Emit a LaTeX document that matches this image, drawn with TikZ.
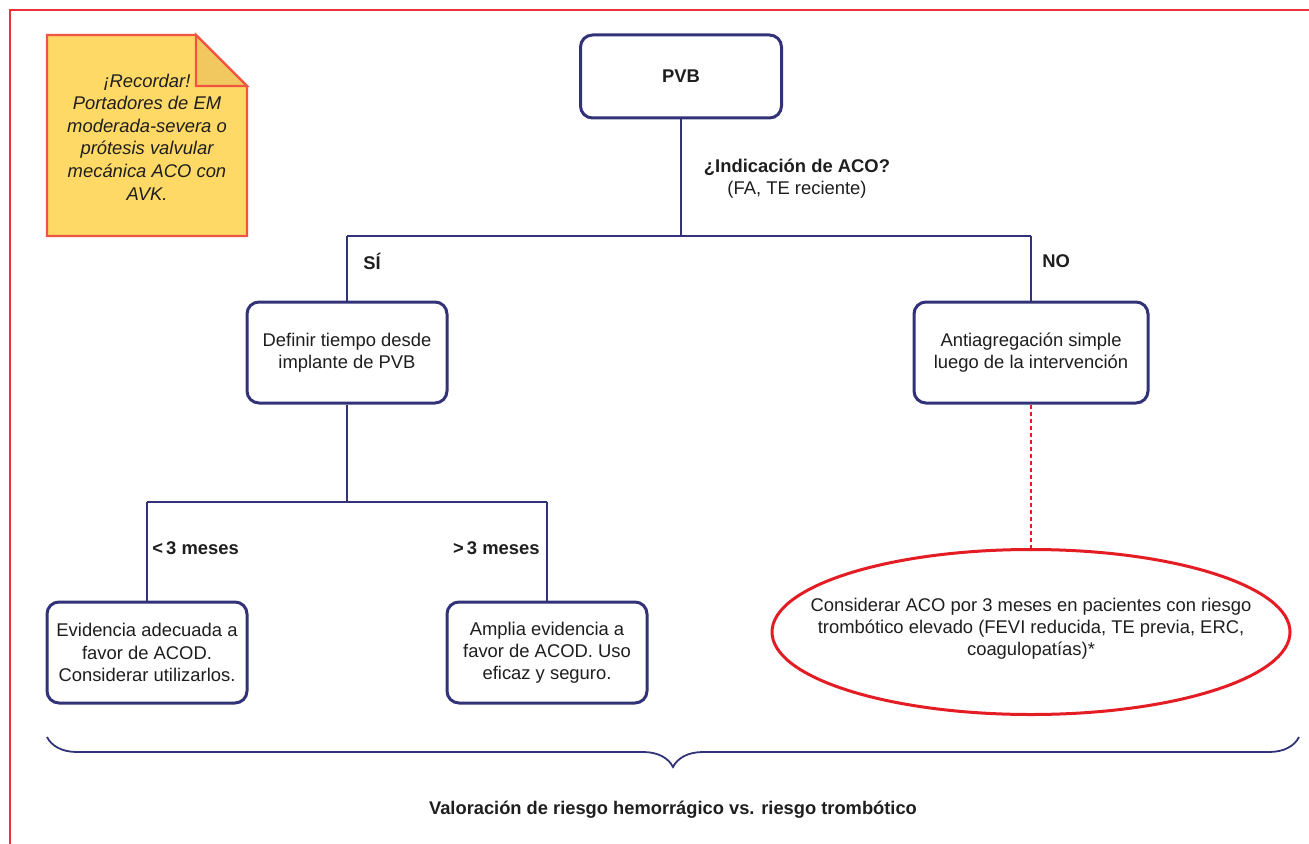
\documentclass[tikz,border=0pt]{standalone}
\usepackage{fontspec}
\setmainfont{Liberation Sans}
\usetikzlibrary{shapes.geometric,decorations.pathreplacing}
\definecolor{navy}{RGB}{50,50,120}
\definecolor{framered}{RGB}{237,50,55}
\definecolor{ellred}{RGB}{228,28,36}
\definecolor{notefill}{RGB}{255,217,102}
\definecolor{notefold}{RGB}{240,200,95}
\definecolor{noteedge}{RGB}{240,85,65}
\definecolor{txt}{RGB}{30,30,30}
\tikzset{
  txtfont/.style={font=\fontsize{9.2}{11.1}\selectfont, text=txt},
  box/.style={draw=navy, line width=1.5pt, rounded corners=6pt, fill=white,
    minimum width=100pt, minimum height=50.5pt, align=center, inner sep=2pt, txtfont},
  conn/.style={draw=navy, line width=0.8pt},
  dashconn/.style={draw=ellred, line width=0.6pt, dash pattern=on 2pt off 1.5pt},
  lbl/.style={txtfont, font=\fontsize{9.2}{11.1}\selectfont\bfseries, inner sep=0pt},
  ell/.style={ellipse, draw=ellred, line width=1.5pt, minimum width=259pt,
    minimum height=82.5pt, inner sep=0pt}
}
\begin{document}
\begin{tikzpicture}[x=0.5pt,y=-0.5pt]
\useasboundingbox (0,0) rectangle (1309,844);
% frame
\draw[framered, line width=0.8pt] (10,844) -- (10,10) -- (1309,10);
% note
\draw[noteedge, line width=1.1pt, fill=notefill, line join=miter]
  (47,35) -- (196,35) -- (247,86) -- (247,236) -- (47,236) -- cycle;
\draw[noteedge, line width=1.1pt, fill=notefold, line join=miter]
  (196,35) -- (196,86) -- (247,86) -- cycle;
\node[txtfont, font=\fontsize{9.2}{11.3}\selectfont\itshape, align=center, inner sep=0pt]
  (note) at (147,137) {¡Recordar!\\Portadores de EM\\moderada-severa o\\prótesis valvular\\mecánica ACO con\\AVK.};
% boxes
\node[box, minimum width=100.5pt, minimum height=41.5pt, font=\fontsize{9.2}{11.1}\selectfont\bfseries] (pvb) at (681,76.5) {PVB};
\node[box] (def) at (347,352.5) {Definir tiempo desde\\implante de PVB};
\node[box, minimum width=117pt] (anti) at (1031,352.5) {Antiagregación simple\\luego de la intervención};
\node[box] (evi) at (147,652.5) {Evidencia adecuada a\\favor de ACOD.\\Considerar utilizarlos.};
\node[box] (amp) at (547,652.5) {Amplia evidencia a\\favor de ACOD. Uso\\eficaz y seguro.};
\node[ell] (ell) at (1031,632) {};
\node[txtfont, align=center, inner sep=0pt] (elltxt) at (1031,629) {Considerar ACO por 3 meses en pacientes con riesgo\\trombótico elevado (FEVI reducida, TE previa, ERC,\\coagulopatías)*};
% junctions
\coordinate (j1) at (681,236);
\coordinate (jl) at (347,236);
\coordinate (jr) at (1031,236);
\coordinate (j2) at (347,502);
\coordinate (j3) at (147,502);
\coordinate (j4) at (547,502);
% connectors
\draw[conn] (pvb.south) -- (j1);
\draw[conn] (jl) -- (jr);
\draw[conn] (jl) -- (def.north);
\draw[conn] (jr) -- (anti.north);
\draw[conn] (def.south) -- (j2);
\draw[conn] (j3) -- (j4);
\draw[conn] (j3) -- (evi.north);
\draw[conn] (j4) -- (amp.north);
\draw[dashconn] (anti.south) -- (ell.north);
% labels
\node[txtfont, align=center, inner sep=0pt] (q) at (797,179) {\textbf{¿Indicación de ACO?}\\(FA, TE reciente)};
\node[lbl, anchor=west] (si) at (363,261) {SÍ};
\node[lbl, anchor=west] (no) at (1042,261) {NO};
\node[lbl, anchor=west] (lt) at (152,548) {<\,3 meses};
\node[lbl, anchor=east] (gt) at (540,548) {>\,3 meses};
% brace
\coordinate (bl) at (47,737);
\coordinate (br) at (1299,737);
\draw[navy, line width=0.9pt, decorate, decoration={brace, mirror, amplitude=15pt}] (bl) -- (br);
\node[lbl, font=\fontsize{9.15}{11}\selectfont\bfseries] (bottom) at (673,810) {Valoración de riesgo hemorrágico vs. riesgo trombótico};
\end{tikzpicture}
\end{document}
